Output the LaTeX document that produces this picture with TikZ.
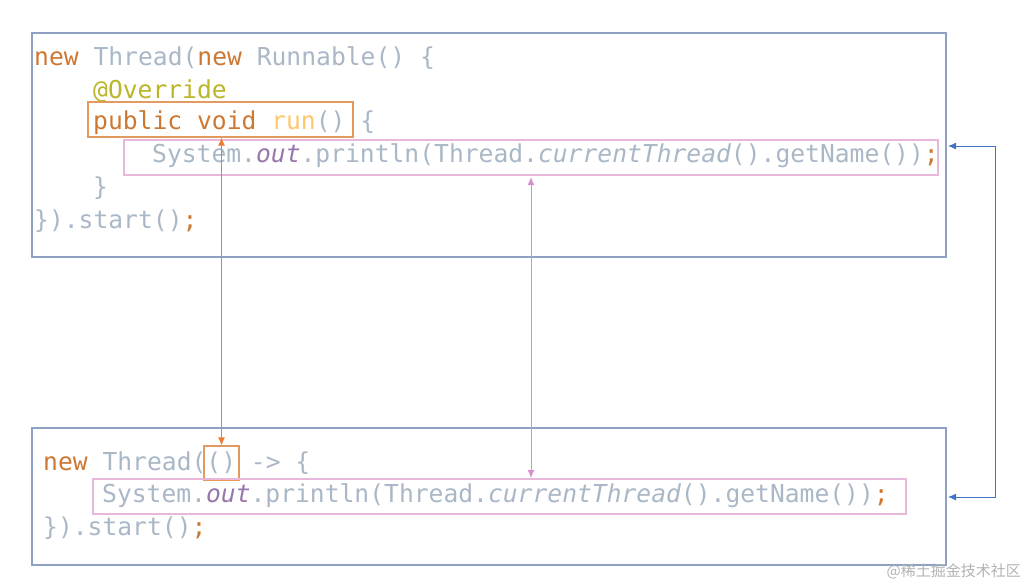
\documentclass[tikz,border=0pt]{standalone}
\usepackage{fontspec}
\setmainfont{DejaVu Sans}
\setmonofont{DejaVu Sans Mono}
\newfontfamily\cjk{Noto Sans CJK SC}
\definecolor{kw}{HTML}{CC7832}
\definecolor{tx}{HTML}{A9B7C6}
\definecolor{pu}{HTML}{9876AA}
\definecolor{an}{HTML}{BBB529}
\definecolor{fn}{HTML}{FFC66D}
\definecolor{frame}{HTML}{8EA1C3}
\definecolor{ob}{HTML}{E39A5F}
\definecolor{pb}{HTML}{E8B8DC}
\definecolor{pa}{HTML}{DA8ED0}
\definecolor{oa}{HTML}{EE7D31}
\definecolor{ba}{HTML}{4472C4}
\begin{document}
\begin{tikzpicture}[x=1pt,y=-1pt,
  code/.style={anchor=west,inner sep=0pt,font=\ttfamily\fontsize{24.65}{26}\selectfont,text=tx},
  frm/.style={draw=frame,line width=1.3pt},
  obox/.style={draw=ob,line width=1.1pt},
  pbox/.style={draw=pb,line width=1.1pt},
  tip/.style={{Latex[length=8pt,width=7pt]}-{Latex[length=8pt,width=7pt]}}]
\usetikzlibrary{arrows.meta}
\useasboundingbox (0,0) rectangle (1027,587);
\draw[frm] (32,33) rectangle (946,257);
\draw[frm] (32,428) rectangle (946,565);
\node[code] (t1) at (34,58) {\textcolor{kw}{new} Thread(\textcolor{kw}{new} Runnable() \{};
\node[code] (t2) at (93,91) {\textcolor{an}{@Override}};
\node[code] (t3) at (93,123) {\textcolor{kw}{public void} \textcolor{fn}{run}() \{};
\node[code] (t4) at (152,156) {System.\textcolor{pu}{\itshape out}.println(Thread.{\itshape currentThread}().getName())\textcolor{kw}{;}};
\node[code] (t5) at (93,188) {\}};
\node[code] (t6) at (34,221) {\}).start()\textcolor{kw}{;}};
\node[code] (b1) at (43,463) {\textcolor{kw}{new} Thread(() -> \{};
\node[code] (b2) at (102,496) {System.\textcolor{pu}{\itshape out}.println(Thread.{\itshape currentThread}().getName())\textcolor{kw}{;}};
\node[code] (b3) at (43,528) {\}).start()\textcolor{kw}{;}};
\node[obox,inner sep=0pt,minimum width=265pt,minimum height=35pt] (o1) at (220.5,119.5) {};
\node[pbox,inner sep=0pt,minimum width=814pt,minimum height=35pt] (p1) at (531,157.5) {};
\node[obox,inner sep=0pt,minimum width=35pt,minimum height=34pt] (o2) at (221.5,463) {};
\node[pbox,inner sep=0pt,minimum width=813pt,minimum height=35pt] (p2) at (499.5,496.5) {};
\coordinate (pt) at (531,177);
\coordinate (pb) at (531,478);
\draw[tip,oa,line width=1pt] (o1.south -| o2.north) -- (o2.north);
\draw[tip,pa,line width=1pt] (pt) -- (pb);
\coordinate (ra) at (948,146);
\coordinate (rb) at (948,497);
\draw[tip,ba,line width=0.9pt] (ra) -- (995,146) -- (995,497) -- (rb);
\node[anchor=east,inner sep=0pt,text=gray!60,font=\cjk\fontsize{15}{16}\selectfont] (wm) at (1021,571) {@稀土掘金技术社区};
\end{tikzpicture}
\end{document}
